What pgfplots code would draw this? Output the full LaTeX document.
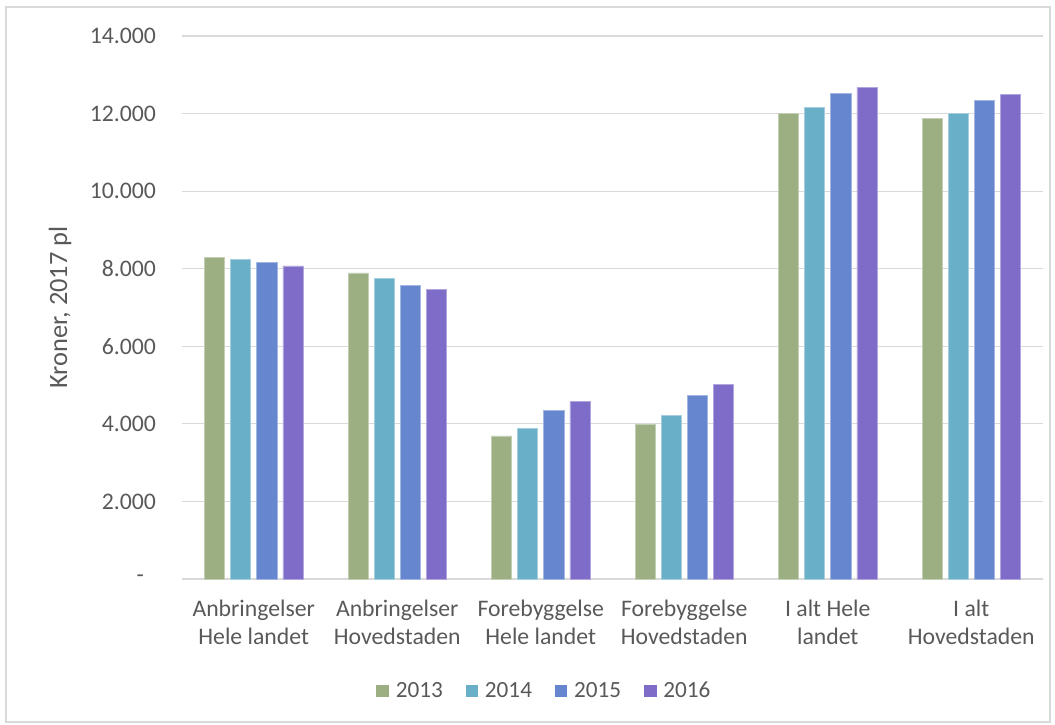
\documentclass[border=0pt]{standalone}
\usepackage{pgfplots}
\pgfplotsset{compat=1.18}
\usepackage{fontspec}
\setmainfont{Carlito}
\definecolor{c13}{HTML}{9BAF82}
\definecolor{c14}{HTML}{6AAFC8}
\definecolor{c15}{HTML}{6686CF}
\definecolor{c16}{HTML}{7F6BC8}
\definecolor{txt}{HTML}{595959}
\definecolor{grd}{HTML}{D9D9D9}
\begin{document}
\begin{tikzpicture}
\useasboundingbox (-136.5pt,-108.75pt) rectangle (654.75pt,434.25pt);
\draw[grd, line width=0.8pt] (-132pt,-107.25pt) rectangle (651pt,429pt);
\begin{axis}[
  at={(0pt,0pt)}, anchor=south west,
  scale only axis, width=645.75pt, height=407.25pt,
  xmin=-0.5, xmax=5.5, ymin=0, ymax=14000,
  axis x line*=bottom, axis y line*=left,
  x axis line style={grd, line width=0.8pt, -},
  y axis line style={draw=none},
  scaled y ticks=false,
  ytick={0,2000,4000,6000,8000,10000,12000,14000},
  yticklabels={-\hspace*{9pt},2.000,4.000,6.000,8.000,10.000,12.000,14.000},
  ymajorgrids, grid style={grd, line width=0.8pt},
  major tick length=0pt,
  xtick={0,1,2,3,4,5},
  xticklabels={Anbringelser\\Hele landet, Anbringelser\\Hovedstaden, Forebyggelse\\Hele landet, Forebyggelse\\Hovedstaden, I alt Hele\\landet, I alt\\Hovedstaden},
  xticklabel style={align=center, text=txt, font=\fontsize{17.8}{21}\selectfont, yshift=-12pt},
  yticklabel style={text=txt, font=\fontsize{17.8}{21}\selectfont, xshift=-16pt},
  ylabel={Kroner, 2017 pl},
  ylabel style={at={(rel axis cs:-0.1417,0.5)}, anchor=center, text=txt, font=\fontsize{19.8}{23}\selectfont},
  ybar, bar width=0.14,
  legend columns=4,
  legend style={at={(272pt,-84pt)}, anchor=center, draw=none, font=\fontsize{17.4}{20}\selectfont, text=txt,
    /tikz/every odd column/.append style={column sep=3pt},
    /tikz/every even column/.append style={column sep=15pt}},
  legend image code/.code={\draw[#1, draw=none] (-1pt,-4.8pt) rectangle (8.6pt,4.8pt);},
]
\addplot[fill=c13, draw=c13!60!white, line width=0.5pt, bar shift=-0.273] coordinates {(0,8295) (1,7890) (2,3687) (3,3978) (4,11997) (5,11868)};
\addplot[fill=c14, draw=c14!60!white, line width=0.5pt, bar shift=-0.091] coordinates {(0,8250) (1,7760) (2,3893) (3,4228) (4,12162) (5,12007)};
\addplot[fill=c15, draw=c15!60!white, line width=0.5pt, bar shift=0.091] coordinates {(0,8173) (1,7580) (2,4349) (3,4744) (4,12530) (5,12343)};
\addplot[fill=c16, draw=c16!60!white, line width=0.5pt, bar shift=0.273] coordinates {(0,8070) (1,7470) (2,4581) (3,5010) (4,12668) (5,12497)};
\legend{2013,2014,2015,2016}
\end{axis}
\end{tikzpicture}
\end{document}
